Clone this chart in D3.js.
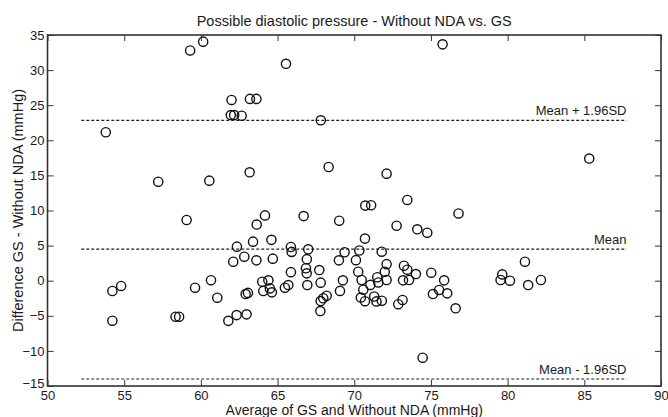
<!DOCTYPE html>
<html>
<head>
<meta charset="utf-8">
<script src="https://cdnjs.cloudflare.com/ajax/libs/d3/7.8.5/d3.min.js"></script>
<style>
  html, body { margin: 0; padding: 0; background: #fff; }
  svg text { font-family: "Liberation Sans", Arial, sans-serif; fill: #1a1a1a; }
</style>
</head>
<body>
<svg id="chart" width="668" height="417"></svg>
<script>
// Bland-Altman data: average of the two methods (x) and their difference (y)
const avgValues = [
  53.8, 59.3, 60.15, 65.55, 62.0, 63.2, 63.62, 61.95, 62.17, 62.66,
  67.82, 57.22, 60.55, 63.18, 68.33, 75.76, 85.32, 72.11, 73.46, 70.72,
  71.1, 59.07, 63.64, 64.18, 66.7, 69.02, 76.8, 72.76, 74.11, 74.76,
  70.7, 62.35, 63.4, 64.6, 65.87, 65.92, 67.0, 62.83, 62.11, 63.62,
  64.69, 66.91, 69.0, 65.87, 66.85, 66.9, 67.72, 69.37, 70.33, 71.79,
  70.11, 72.11, 73.24, 73.46, 74.02, 75.02, 70.26, 71.99, 71.5, 70.48,
  69.26, 71.57, 72.11, 73.18, 73.57, 75.86, 71.05, 70.59, 69.07, 70.43,
  70.7, 71.3, 71.45, 71.8, 72.87, 73.15, 75.13, 75.53, 76.06, 76.61,
  74.46, 81.13, 79.65, 79.54, 80.15, 81.34, 82.17, 54.23, 54.8, 54.23,
  59.62, 60.66, 61.07, 58.35, 58.58, 61.79, 62.33, 62.98, 62.92, 63.07,
  64.0, 64.4, 64.07, 64.5, 64.63, 65.48, 65.7, 66.94, 67.81, 67.81,
  67.98, 68.2, 67.79
];
const diffValues = [
  21.15, 32.8, 34.05, 30.9, 25.75, 25.9, 25.9, 23.6, 23.6, 23.5,
  22.85, 14.1, 14.25, 15.44, 16.2, 33.67, 17.4, 15.25, 11.5, 10.7,
  10.75, 8.65, 8.0, 9.3, 9.2, 8.55, 9.58, 7.83, 7.32, 6.84,
  6.0, 4.85, 5.56, 5.82, 4.8, 4.1, 4.47, 3.42, 2.71, 2.9,
  3.14, 3.07, 2.9, 1.22, 1.77, 1.05, 1.52, 4.05, 4.3, 4.13,
  2.93, 2.36, 2.14, 1.57, 0.95, 1.14, 1.28, 1.28, 0.49, 0.1,
  0.05, -0.25, 0.1, 0.05, 0.1, 0.05, -0.6, -1.28, -1.45, -2.4,
  -2.92, -2.25, -2.95, -2.85, -3.35, -2.75, -1.9, -1.32, -1.8, -3.93,
  -10.97, 2.71, 0.9, 0.1, 0.0, -0.62, 0.1, -1.47, -0.75, -5.7,
  -1.0, 0.07, -2.42, -5.13, -5.13, -5.72, -4.9, -4.79, -1.9, -1.74,
  -0.14, 0.05, -1.47, -1.1, -1.66, -1.0, -0.62, -0.62, -0.28, -2.9,
  -2.5, -2.14, -4.32
];

// Mean difference and limits of agreement
const refValues = [22.85, 4.5, -14.0];
const refLabels = ['Mean + 1.96SD', 'Mean', 'Mean - 1.96SD'];
const refRange = [52.2, 87.75];

const xTicks = [50, 55, 60, 65, 70, 75, 80, 85, 90];
const yTicks = [-15, -10, -5, 0, 5, 10, 15, 20, 25, 30, 35];

const titleText = 'Possible diastolic pressure - Without NDA vs. GS';
const xLabelText = 'Average of GS and Without NDA (mmHg)';
const yLabelText = 'Difference GS - Without NDA (mmHg)';

const width = 668;
const height = 417;
const margin = { top: 35, right: 7, bottom: 31, left: 47.5 };

const svg = d3.select('#chart');

const x = d3.scaleLinear()
  .domain([50, 90])
  .range([margin.left, width - margin.right]);

const y = d3.scaleLinear()
  .domain([-15, 35])
  .range([height - margin.bottom, margin.top]);

// Axes, ticks pointing inwards on all sides
const tickLen = 6;

svg.append('g')
  .attr('transform', `translate(0,${y(-15)})`)
  .call(d3.axisBottom(x).tickValues(xTicks).tickSizeInner(-tickLen).tickSizeOuter(0).tickPadding(5));

const yAxis = svg.append('g')
  .attr('transform', `translate(${x(50)},0)`)
  .call(d3.axisLeft(y).tickValues(yTicks).tickSizeInner(-tickLen).tickSizeOuter(0).tickPadding(3));

// the lowest y label sits a little higher so it clears the "50"
yAxis.selectAll('.tick text').filter(d => d === -15).attr('dy', '0.1em');

svg.append('g')
  .attr('transform', `translate(0,${y(35)})`)
  .call(d3.axisTop(x).tickValues(xTicks).tickSizeInner(-tickLen).tickSizeOuter(0).tickFormat(''));

svg.append('g')
  .attr('transform', `translate(${x(90)},0)`)
  .call(d3.axisRight(y).tickValues(yTicks).tickSizeInner(-tickLen).tickSizeOuter(0).tickFormat(''));

svg.selectAll('.domain').remove();
svg.selectAll('.tick line').attr('stroke', '#333').attr('stroke-width', 1);
svg.selectAll('.tick text').style('font-size', '13px').attr('fill', '#1a1a1a');

// Frame
svg.append('rect')
  .attr('x', x(50))
  .attr('y', y(35))
  .attr('width', x(90) - x(50))
  .attr('height', y(-15) - y(35))
  .attr('fill', 'none')
  .attr('stroke', '#333')
  .attr('stroke-width', 1.6);

// Reference lines
refValues.forEach((v, i) => {
  svg.append('line')
    .attr('x1', x(refRange[0]))
    .attr('x2', x(refRange[1]))
    .attr('y1', y(v))
    .attr('y2', y(v))
    .attr('stroke', '#222')
    .attr('stroke-width', 1.2)
    .attr('stroke-dasharray', '3,2');

  svg.append('text')
    .attr('x', x(refRange[1]))
    .attr('y', y(v) - 5)
    .attr('text-anchor', 'end')
    .style('font-size', '13px')
    .text(refLabels[i]);
});

// Points
svg.append('g')
  .selectAll('circle')
  .data(avgValues.map((a, i) => ({ a, d: diffValues[i] })))
  .join('circle')
  .attr('cx', d => x(d.a))
  .attr('cy', d => y(d.d))
  .attr('r', 4.6)
  .attr('fill', 'none')
  .attr('stroke', '#111')
  .attr('stroke-width', 1.4);

// Titles
svg.append('text')
  .attr('x', (x(50) + x(90)) / 2)
  .attr('y', 25.5)
  .attr('text-anchor', 'middle')
  .style('font-size', '14.5px')
  .text(titleText);

svg.append('text')
  .attr('x', (x(50) + x(90)) / 2)
  .attr('y', 415)
  .attr('text-anchor', 'middle')
  .style('font-size', '14px')
  .text(xLabelText);

svg.append('text')
  .attr('transform', `translate(23,${(y(35) + y(-15)) / 2}) rotate(-90)`)
  .attr('text-anchor', 'middle')
  .style('font-size', '14.5px')
  .text(yLabelText);
</script>
</body>
</html>
